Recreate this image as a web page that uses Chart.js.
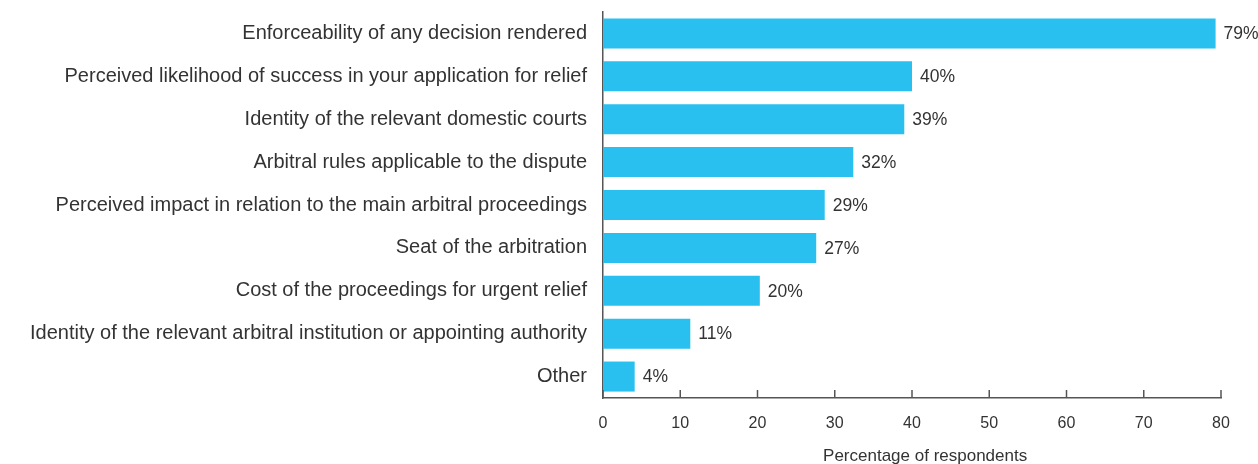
<!DOCTYPE html>
<html>
<head>
<meta charset="utf-8">
<script src="https://cdn.jsdelivr.net/npm/chart.js@4"></script>
<style>
  html, body { margin: 0; padding: 0; background: #fff; }
  .wrap { width: 1258px; height: 464px; position: relative; }
</style>
</head>
<body>
<div class="wrap"><canvas id="chart"></canvas></div>
<script>
const categories = [
  'Enforceability of any decision rendered',
  'Perceived likelihood of success in your application for relief',
  'Identity of the relevant domestic courts',
  'Arbitral rules applicable to the dispute',
  'Perceived impact in relation to the main arbitral proceedings',
  'Seat of the arbitration',
  'Cost of the proceedings for urgent relief',
  'Identity of the relevant arbitral institution or appointing authority',
  'Other'
];
const shares = [79.3, 40, 39, 32.4, 28.7, 27.6, 20.3, 11.3, 4.1];
const shareLabels = ['79%', '40%', '39%', '32%', '29%', '27%', '20%', '11%', '4%'];
const xTicks = [0, 10, 20, 30, 40, 50, 60, 70, 80];
const xTitle = 'Percentage of respondents';

const FONT = "'Liberation Sans', Arial, sans-serif";
const TEXT = '#333333';
const AXIS = '#555555';

// values at bar ends, inward ticks and the axis title
const barLabels = {
  id: 'barLabels',
  afterDatasetsDraw(chart) {
    const ctx = chart.ctx;
    const meta = chart.getDatasetMeta(0);
    ctx.save();
    ctx.font = '17.5px ' + FONT;
    ctx.fillStyle = TEXT;
    ctx.textBaseline = 'middle';
    meta.data.forEach((bar, i) => {
      ctx.fillText(shareLabels[i], bar.x + 8, bar.y + 1);
    });
    ctx.restore();
  },
  afterDraw(chart) {
    const ctx = chart.ctx;
    const x = chart.scales.x;
    const bottom = chart.chartArea.bottom;
    ctx.save();
    ctx.strokeStyle = AXIS;
    ctx.lineWidth = 1.5;
    xTicks.forEach(v => {
      const px = x.getPixelForValue(v);
      ctx.beginPath();
      ctx.moveTo(px, bottom);
      ctx.lineTo(px, bottom - 8);
      ctx.stroke();
    });
    ctx.font = '17px ' + FONT;
    ctx.fillStyle = TEXT;
    ctx.textAlign = 'center';
    ctx.textBaseline = 'middle';
    ctx.fillText(xTitle, x.getPixelForValue(41.7), bottom + 58);
    ctx.restore();
  }
};

new Chart(document.getElementById('chart'), {
  type: 'bar',
  data: {
    labels: categories,
    datasets: [{
      data: shares,
      backgroundColor: '#29c0f0',
      barPercentage: 0.7,
      categoryPercentage: 1
    }]
  },
  options: {
    indexAxis: 'y',
    responsive: true,
    maintainAspectRatio: false,
    animation: false,
    layout: { padding: { top: 12, right: 37, left: 0, bottom: 0 } },
    plugins: { legend: { display: false }, tooltip: { enabled: false } },
    scales: {
      x: {
        min: 0, max: 80,
        ticks: { stepSize: 10, color: TEXT, font: { family: FONT, size: 16 }, padding: 16 },
        grid: { display: false, drawTicks: false },
        border: { display: true, color: AXIS, width: 1.5 },
        afterFit(scale) { scale.height = 66; }
      },
      y: {
        ticks: { color: TEXT, font: { family: FONT, size: 20 }, padding: 16 },
        grid: { display: false, drawTicks: false },
        border: { display: true, color: AXIS, width: 1.5 },
        afterFit(scale) {
          scale.width = 603;
          scale.paddingTop = 0;
          scale.paddingBottom = 0;
        }
      }
    }
  },
  plugins: [barLabels]
});
</script>
</body>
</html>
